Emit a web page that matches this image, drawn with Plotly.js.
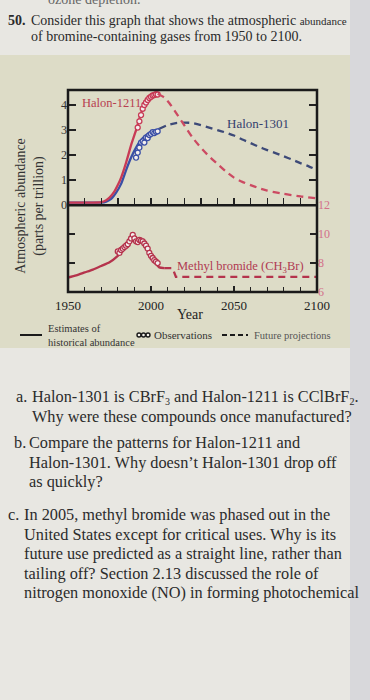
<!DOCTYPE html>
<html><head><meta charset="utf-8">
<script src="https://cdn.plot.ly/plotly-3.0.1.min.js"></script>
<style>
html,body{margin:0;padding:0;}
body{width:370px;height:700px;overflow:hidden;position:relative;background:#e8e7e2;font-family:"Liberation Serif","DejaVu Serif",serif;color:#2a2a2a;}
#box{position:absolute;left:0;top:55px;width:350px;height:293px;background:#dddcc7;}
#strip{position:absolute;left:350px;top:0;width:20px;height:700px;background:#d8d8db;}
#chart{position:absolute;left:0;top:60px;width:350px;height:300px;}
.t{position:absolute;white-space:nowrap;}
.q{position:absolute;left:0;font-size:16.3px;line-height:19.5px;white-space:nowrap;color:#2b2b2b;}
.q .lab{position:absolute;top:0;}
.q .txt{position:absolute;top:0;}
.q sub{font-size:10px;line-height:0;vertical-align:-0.25em;}
</style></head><body>
<div id="box"></div>
<div id="strip"></div>
<div class="t" style="left:48px;top:-8px;font-size:14px;color:#666;">ozone depletion.</div>
<div class="t" style="left:8px;top:13px;font-size:14px;font-weight:bold;">50.</div>
<div class="t" style="left:31px;top:13px;font-size:14px;">Consider this graph that shows the atmospheric <span style="font-size:11px">abundance</span></div>
<div class="t" style="left:31px;top:29px;font-size:14px;">of bromine-containing gases from 1950 to 2100.</div>
<div id="chart"></div>
<div class="q" style="top:387px;"><span class="lab" style="left:16px">a.</span><span class="txt" style="left:32px">Halon-1301 is CBrF<sub>3</sub> and Halon-1211 is CClBrF<sub>2</sub>.<br>Why were these compounds once manufactured?</span></div>
<div class="q" style="top:433px;"><span class="lab" style="left:14px">b.</span><span class="txt" style="left:29px">Compare the patterns for Halon-1211 and<br>Halon-1301. Why doesn’t Halon-1301 drop off<br>as quickly?</span></div>
<div class="q" style="top:505px;"><span class="lab" style="left:8px">c.</span><span class="txt" style="left:24px">In 2005, methyl bromide was phased out in the<br>United States except for critical uses. Why is its<br>future use predicted as a straight line, rather than<br>tailing off? Section 2.13 discussed the role of<br>nitrogen monoxide (NO) in forming photochemical</span></div>
<script>
// ---- data ----
const xTickVals = [1950, 2000, 2050, 2100];
const xTickText = ["1950", "2000", "2050", "2100"];
const leftTickVals = [0, 1, 2, 3, 4];
const rightTickVals = [6, 8, 10, 12];

const h1211EstYears = [1950, 1960, 1965, 1970, 1973, 1975, 1978, 1980, 1982, 1985, 1988, 1991, 1993, 1996, 1999, 2002, 2004];
const h1211Est      = [0.1, 0.1, 0.1, 0.12, 0.2, 0.3, 0.55, 0.8, 1.1, 1.7, 2.4, 3.0, 3.45, 4.05, 4.3, 4.42, 4.45];
const h1211ObsYears = [1992, 1993, 1994, 1995, 1996, 1997, 1998, 1999, 2000, 2001, 2002, 2003, 2004];
const h1211Obs      = [3.1, 3.35, 3.6, 3.85, 4.0, 4.1, 4.2, 4.28, 4.33, 4.38, 4.4, 4.43, 4.42];
const h1211ProjYears = [2004, 2008, 2011, 2015, 2019, 2025, 2030, 2035, 2040, 2045, 2050, 2055, 2060, 2065, 2070, 2080, 2090, 2100];
const h1211Proj      = [4.45, 4.3, 4.08, 3.7, 3.3, 2.7, 2.3, 1.95, 1.65, 1.35, 1.1, 0.93, 0.8, 0.68, 0.58, 0.45, 0.35, 0.27];

const h1301EstYears = [1950, 1960, 1965, 1970, 1973, 1976, 1979, 1982, 1985, 1988, 1991, 1994, 1997, 2000, 2003, 2005];
const h1301Est      = [0.1, 0.1, 0.1, 0.1, 0.14, 0.25, 0.5, 0.85, 1.4, 1.9, 2.3, 2.6, 2.8, 2.92, 2.98, 3.05];
const h1301ObsYears = [1991, 1992, 1993, 1994, 1995, 1996, 1997, 1998, 1999, 2000, 2001, 2002, 2003, 2004];
const h1301Obs      = [1.9, 2.1, 2.3, 2.5, 2.55, 2.5, 2.7, 2.68, 2.8, 2.85, 2.92, 2.88, 2.93, 2.95];
const h1301ProjYears = [2005, 2010, 2015, 2020, 2025, 2030, 2035, 2040, 2045, 2050, 2055, 2060, 2065, 2070, 2075, 2080, 2085, 2090, 2095, 2100];
const h1301Proj      = [3.05, 3.2, 3.28, 3.3, 3.28, 3.2, 3.1, 3.0, 2.9, 2.78, 2.62, 2.48, 2.33, 2.2, 2.08, 1.95, 1.82, 1.68, 1.55, 1.4];

const mbEstYears = [1950, 1955, 1960, 1965, 1970, 1975, 1980, 1985, 1988, 1991, 1994, 1997, 1999, 2001, 2003, 2005, 2008];
const mbEst      = [7.0, 7.15, 7.35, 7.55, 7.8, 8.05, 8.5, 9.1, 9.5, 9.6, 9.5, 9.3, 8.8, 8.3, 7.95, 7.7, 7.65];
const mbObsYears = [1980, 1981, 1982, 1983, 1984, 1985, 1986, 1987, 1988, 1989, 1990, 1991, 1992, 1993, 1994, 1995, 1996, 1997, 1998, 1999, 2000, 2001, 2002, 2003, 2004];
const mbObs      = [8.8, 8.7, 8.9, 9.0, 9.1, 9.2, 9.3, 9.5, 9.7, 9.95, 9.7, 9.5, 9.45, 9.6, 9.55, 9.5, 9.35, 9.2, 9.0, 8.7, 8.5, 8.35, 8.2, 8.1, 8.0];
const mbProjYears = [2008, 2013, 2015, 2100];
const mbProj      = [7.65, 7.65, 7.05, 7.05];

const legendNames = ["Estimates of<br>historical abundance", "Observations", "Future projections"];

// ---- styles ----
const RED = "#c83a55", RED_D = "#cc4a62", BLUE = "#3a4fa6", BLUE_D = "#3d4a78", MB = "#b5334c";
const SERIF = "Liberation Serif, DejaVu Serif, serif";

function est(x, y, c, xa, ya) { return {x, y, xaxis: xa, yaxis: ya, mode: "lines", line: {color: c, width: 2.3, shape: "spline", smoothing: 0.6}, showlegend: false, hoverinfo: "skip"}; }
function obs(x, y, c, xa, ya) { return {x, y, xaxis: xa, yaxis: ya, mode: "markers", marker: {symbol: "circle", size: 5, color: "#f3eeee", line: {color: c, width: 1.3}}, showlegend: false, hoverinfo: "skip"}; }
function proj(x, y, c, xa, ya, sh) { return {x, y, xaxis: xa, yaxis: ya, mode: "lines", line: {color: c, width: 2.3, dash: "7px,5px", shape: sh || "spline", smoothing: 0.6}, showlegend: false, hoverinfo: "skip"}; }

const traces = [
  est(h1301EstYears, h1301Est, BLUE, "x2", "y"),
  obs(h1301ObsYears, h1301Obs, BLUE, "x2", "y"),
  proj(h1301ProjYears, h1301Proj, BLUE_D, "x2", "y"),
  est(h1211EstYears, h1211Est, RED, "x2", "y"),
  obs(h1211ObsYears, h1211Obs, RED, "x2", "y"),
  proj(h1211ProjYears, h1211Proj, RED_D, "x2", "y"),
  est(mbEstYears, mbEst, MB, "x", "y2"),
  obs(mbObsYears, mbObs, MB, "x", "y2"),
  proj(mbProjYears, mbProj, MB, "x", "y2", "linear")
];

// legend key drawn by hand (paper coords of the plot area: 249 x 202 px)
const PW = 249, PH = 202;
const px = v => (v - 68) / PW;          // page x -> paper
const py = v => -(v - 292) / PH;        // page y -> paper
const legendShapes = [
  {type: "line", xref: "paper", yref: "paper", x0: px(20), x1: px(42), y0: py(335), y1: py(335), line: {color: "#1a1a1a", width: 2}},
  {type: "line", xref: "paper", yref: "paper", x0: px(222), x1: px(248), y0: py(335), y1: py(335), line: {color: "#1a1a1a", width: 2, dash: "5px,3px"}}
].concat([139, 143.5, 148].map(cx => ({type: "circle", xref: "paper", yref: "paper", xsizemode: "pixel", ysizemode: "pixel",
  xanchor: px(cx), yanchor: py(335), x0: -2, x1: 2, y0: -2, y1: 2, line: {color: "#1a1a1a", width: 1.4}, fillcolor: "#f4f2ea"})));

const SPLIT = 0.43;
const layout = {
  width: 350, height: 300,
  margin: {l: 68, r: 33, t: 30, b: 68},
  paper_bgcolor: "rgba(0,0,0,0)", plot_bgcolor: "rgba(0,0,0,0)",
  font: {family: SERIF, color: "#222"},
  showlegend: false,
  xaxis: {anchor: "y2", range: [1950, 2100], tickvals: xTickVals, ticktext: xTickText, ticks: "inside", ticklen: 6, tickwidth: 1.5, tickcolor: "#222",
          minor: {tick0: 1950, dtick: 10, ticks: "inside", ticklen: 5, tickwidth: 1.2, tickcolor: "#222"}, ticklabelstandoff: 4,
          showgrid: false, zeroline: false, showline: false, tickfont: {size: 13, color: "#222"}, automargin: false},
  xaxis2: {anchor: "y", matches: "x", range: [1950, 2100], dtick: 10, tick0: 1950, ticks: "inside", ticklen: 7, tickwidth: 1.4, tickcolor: "#222",
           showticklabels: false, showgrid: false, zeroline: false, showline: false},
  yaxis: {domain: [SPLIT, 1], range: [0, 4.6], tickvals: leftTickVals, ticks: "inside", ticklen: 8, tickwidth: 1.4, tickcolor: "#222", mirror: "ticks",
          showgrid: false, zeroline: false, showline: false, tickfont: {size: 12, color: "#333"}, automargin: false},
  yaxis2: {domain: [0, SPLIT], range: [6, 12], side: "right", anchor: "x", tickvals: rightTickVals, ticks: "inside", ticklen: 7, tickwidth: 1.4, tickcolor: "#222", mirror: "ticks",
           showgrid: false, zeroline: false, showline: false, tickfont: {size: 12, color: "#d3708a"}, automargin: false},
  shapes: [
    {type: "rect", xref: "paper", yref: "paper", x0: 0, x1: 1, y0: 0, y1: 1, line: {color: "#1a1a1a", width: 2.5}},
    {type: "line", xref: "paper", yref: "paper", x0: 0, x1: 1, y0: SPLIT, y1: SPLIT, line: {color: "#1a1a1a", width: 2.5}}
  ].concat(legendShapes),
  annotations: [
    {xref: "x2", yref: "y", x: 1957.2, y: 4.08, xanchor: "left", yanchor: "middle", text: "Halon-1211", showarrow: false, font: {size: 12.5, color: "#b8404f"}},
    {xref: "x2", yref: "y", x: 2044.5, y: 3.28, xanchor: "left", yanchor: "middle", text: "Halon-1301", showarrow: false, font: {size: 13, color: "#34406e"}},
    {xref: "x", yref: "y2", x: 2014.5, y: 7.75, xanchor: "left", yanchor: "middle", text: "Methyl bromide (CH<sub>3</sub>Br)", showarrow: false, font: {size: 12.5, color: "#b03a52"}},
    {xref: "paper", yref: "paper", x: 0.49, y: -0.11, xanchor: "center", yanchor: "middle", text: "Year", showarrow: false, font: {size: 14, color: "#222"}},
    {xref: "paper", yref: "paper", x: -0.153, y: 0.426, xanchor: "center", yanchor: "middle", textangle: -90, text: "Atmospheric abundance<br>(parts per trillion)", showarrow: false, font: {size: 14, color: "#333"}},
    {xref: "paper", yref: "paper", x: px(46), y: py(335.5), xanchor: "left", yanchor: "middle", align: "left", text: legendNames[0], showarrow: false, font: {size: 10.5, color: "#333"}},
    {xref: "paper", yref: "paper", x: px(152), y: py(335), xanchor: "left", yanchor: "middle", text: legendNames[1], showarrow: false, font: {size: 11, color: "#333"}},
    {xref: "paper", yref: "paper", x: px(252), y: py(335), xanchor: "left", yanchor: "middle", text: legendNames[2], showarrow: false, font: {size: 10.5, color: "#555"}}
  ]
};

Plotly.newPlot("chart", traces, layout, {staticPlot: true, displayModeBar: false});
</script>
</body></html>
